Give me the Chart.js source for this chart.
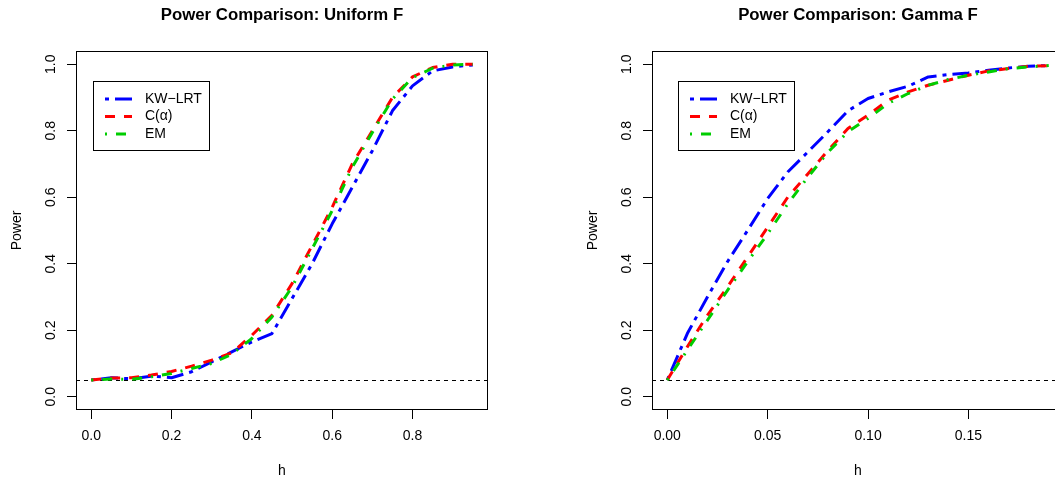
<!DOCTYPE html>
<html>
<head>
<meta charset="utf-8">
<script src="https://cdn.jsdelivr.net/npm/chart.js@4.4.1/dist/chart.umd.min.js"></script>
<style>
  html, body { margin: 0; padding: 0; background: #ffffff; overflow: hidden; }
  #wrap { position: relative; width: 1055px; height: 478px; overflow: hidden; background: #ffffff; }
  canvas { position: absolute; top: 0; }
  #c1 { left: 0px; }
  #c2 { left: 576px; }
</style>
</head>
<body>
<div id="wrap">
  <canvas id="c1" width="564" height="478"></canvas>
  <canvas id="c2" width="564" height="478"></canvas>
</div>
<script>
// ---------------- data ----------------
const seriesLabels = ['KW\u2212LRT', 'C(\u03b1)', 'EM'];
const titleUniform = 'Power Comparison: Uniform F';
const titleGamma = 'Power Comparison: Gamma F';
const xLabel = 'h';
const yLabel = 'Power';
const nullLevel = 0.05;

const hUniform  = [0.00, 0.05, 0.10, 0.15, 0.20, 0.25, 0.30, 0.35, 0.40, 0.45, 0.50, 0.55, 0.60, 0.65, 0.70, 0.75, 0.80, 0.85, 0.90, 0.95];
const kwUniform = [0.050, 0.057, 0.054, 0.062, 0.057, 0.075, 0.105, 0.135, 0.165, 0.190, 0.295, 0.400, 0.520, 0.630, 0.740, 0.860, 0.935, 0.980, 0.992, 0.998];
const caUniform = [0.050, 0.056, 0.057, 0.065, 0.076, 0.092, 0.110, 0.132, 0.185, 0.245, 0.340, 0.455, 0.570, 0.700, 0.800, 0.900, 0.962, 0.990, 1.000, 1.000];
const emUniform = [0.050, 0.053, 0.052, 0.060, 0.070, 0.085, 0.100, 0.128, 0.175, 0.240, 0.330, 0.445, 0.560, 0.690, 0.795, 0.895, 0.960, 0.988, 0.998, 1.000];

const hGamma  = [0.00, 0.01, 0.02, 0.03, 0.04, 0.05, 0.06, 0.07, 0.08, 0.09, 0.10, 0.11, 0.12, 0.13, 0.14, 0.15, 0.16, 0.17, 0.18, 0.19];
const kwGamma = [0.050, 0.190, 0.300, 0.406, 0.500, 0.596, 0.676, 0.736, 0.797, 0.860, 0.897, 0.917, 0.934, 0.962, 0.969, 0.974, 0.982, 0.989, 0.994, 0.996];
const caGamma = [0.050, 0.150, 0.245, 0.330, 0.420, 0.510, 0.600, 0.670, 0.740, 0.807, 0.847, 0.892, 0.917, 0.937, 0.952, 0.967, 0.980, 0.987, 0.994, 0.996];
const emGamma = [0.050, 0.140, 0.230, 0.320, 0.406, 0.490, 0.580, 0.660, 0.735, 0.797, 0.837, 0.882, 0.912, 0.937, 0.954, 0.967, 0.977, 0.987, 0.992, 0.996];

const xTicksUniform = [0.0, 0.2, 0.4, 0.6, 0.8];
const xTicksGamma   = [0.00, 0.05, 0.10, 0.15];
const yTicks        = [0.0, 0.2, 0.4, 0.6, 0.8, 1.0];

// ---------------- styles ----------------
const FONT = '"Liberation Sans", Arial, Helvetica, sans-serif';
const colors = ['#0000ff', '#ff0000', '#00cd00'];
const dashes = [[4, 6, 17, 6], [10, 9], [2, 9, 10, 9]];
const drawOrder = [2, 1, 0];

function pts(xs, ys) { return xs.map((x, i) => ({ x: x, y: ys[i] })); }

function makeDatasets(xs, series) {
  return series.map((ys, i) => ({
    label: seriesLabels[i],
    data: pts(xs, ys),
    borderColor: colors[i],
    backgroundColor: colors[i],
    borderWidth: 3,
    borderDash: dashes[i],
    borderCapStyle: 'butt',
    borderJoinStyle: 'round',
    pointRadius: 0,
    tension: 0,
    fill: false,
    order: drawOrder[i]
  }));
}

// box + reference line + legend
const framePlugin = {
  id: 'frame',
  beforeDatasetsDraw(chart) {
    const { ctx, chartArea: a, scales } = chart;
    const y = scales.y.getPixelForValue(nullLevel);
    ctx.save();
    ctx.beginPath();
    ctx.rect(a.left, a.top, a.right - a.left, a.bottom - a.top);
    ctx.clip();
    ctx.strokeStyle = '#000000';
    ctx.lineWidth = 1;
    ctx.setLineDash([4, 4]);
    ctx.beginPath();
    ctx.moveTo(a.left, Math.round(y) + 0.5);
    ctx.lineTo(a.right, Math.round(y) + 0.5);
    ctx.stroke();
    ctx.restore();
  },
  afterDraw(chart, args, opts) {
    const { ctx, chartArea: a } = chart;
    ctx.save();
    ctx.strokeStyle = '#000000';
    ctx.lineWidth = 1;
    ctx.setLineDash([]);
    ctx.strokeRect(Math.round(a.left) + 0.5, Math.round(a.top) + 0.5,
                   Math.round(a.right - a.left) - 1, Math.round(a.bottom - a.top) - 1);
    // legend
    const lx = Math.round(a.left + opts.dx) + 0.5;
    const ly = Math.round(a.top + 30) + 0.5;
    ctx.fillStyle = '#ffffff';
    ctx.fillRect(lx, ly, 116, 69);
    ctx.strokeRect(lx, ly, 116, 69);
    ctx.font = '14px ' + FONT;
    ctx.textBaseline = 'middle';
    ctx.textAlign = 'left';
    chart.data.datasets.forEach((ds, i) => {
      const ry = ly + 17.5 + i * 17.5;
      ctx.strokeStyle = ds.borderColor;
      ctx.lineWidth = 3;
      ctx.lineCap = 'butt';
      ctx.setLineDash(ds.borderDash);
      ctx.beginPath();
      ctx.moveTo(lx + 11.5, ry);
      ctx.lineTo(lx + 38.5, ry);
      ctx.stroke();
      ctx.setLineDash([]);
      ctx.fillStyle = '#000000';
      ctx.fillText(ds.label, lx + 51.5, ry);
    });
    ctx.restore();
  }
};

function makeChart(id, title, xs, series, xMin, xMax, xTicks, digits, legendDx) {
  return new Chart(document.getElementById(id), {
    type: 'line',
    data: { datasets: makeDatasets(xs, series) },
    plugins: [framePlugin],
    options: {
      responsive: false,
      animation: false,
      devicePixelRatio: 1,
      layout: { padding: { left: 0, right: 0, top: 0, bottom: 0 } },
      plugins: {
        legend: { display: false },
        tooltip: { enabled: false },
        frame: { dx: legendDx },
        title: {
          display: true,
          text: title,
          color: '#000000',
          font: { family: FONT, size: 16.8, weight: 'bold', lineHeight: 1.2 },
          padding: { top: 5.5, bottom: 25.3 }
        }
      },
      scales: {
        x: {
          type: 'linear',
          min: xMin,
          max: xMax,
          afterBuildTicks: s => { s.ticks = xTicks.map(v => ({ value: v })); },
          afterFit: s => { s.height = 68; },
          grid: { display: true, drawOnChartArea: false, drawTicks: true, tickLength: 9, color: '#000000', lineWidth: 1 },
          border: { display: false },
          ticks: {
            autoSkip: false, maxRotation: 0, minRotation: 0, padding: 9, color: '#000000',
            font: { family: FONT, size: 14 },
            callback: v => Number(v).toFixed(digits)
          },
          title: {
            display: true, text: xLabel, color: '#000000',
            font: { family: FONT, size: 14, lineHeight: 1 },
            padding: { top: 0, bottom: 0 }
          }
        },
        y: {
          type: 'linear',
          position: 'left',
          min: -0.04,
          max: 1.04,
          afterBuildTicks: s => { s.ticks = yTicks.map(v => ({ value: v })); },
          afterFit: s => { s.width = 76; },
          grid: { display: true, drawOnChartArea: false, drawTicks: true, tickLength: 9, color: '#000000', lineWidth: 1 },
          border: { display: false },
          ticks: {
            autoSkip: false, minRotation: 90, maxRotation: 90, crossAlign: 'center', padding: 6, color: '#000000',
            font: { family: FONT, size: 14 },
            callback: v => Number(v).toFixed(1)
          },
          title: {
            display: true, text: yLabel, color: '#000000',
            font: { family: FONT, size: 14, lineHeight: 1 },
            padding: { top: 10, bottom: 0 }
          }
        },
        // empty right margin (R's outer right margin), keeps the title centred over the plot
        yRightMargin: {
          type: 'linear',
          position: 'right',
          display: true,
          afterFit: s => { s.width = 76; },
          grid: { display: false, drawTicks: false },
          border: { display: false },
          ticks: { display: false },
          title: { display: false }
        }
      }
    }
  });
}

makeChart('c1', titleUniform, hUniform, [kwUniform, caUniform, emUniform], -0.038, 0.988, xTicksUniform, 1, 17);
makeChart('c2', titleGamma, hGamma, [kwGamma, caGamma, emGamma], -0.0076, 0.1976, xTicksGamma, 2, 26);
</script>
</body>
</html>
